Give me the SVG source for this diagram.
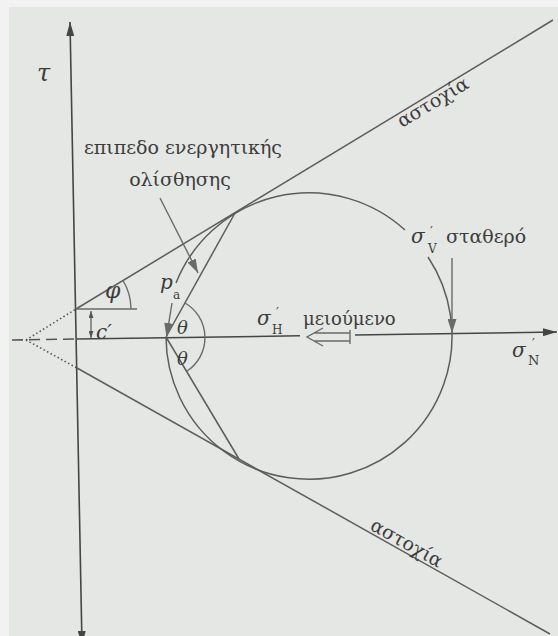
<svg xmlns="http://www.w3.org/2000/svg" width="558" height="636" viewBox="0 0 558 636">
<style>
.bg{fill:#e5e7e5}
.ln{fill:none;stroke:#5c5c5c;stroke-width:1.5}
.ax{fill:none;stroke:#454545;stroke-width:1.6}
.gr{fill:none;stroke:#6a6a6a;stroke-width:1.4}
.dot{fill:none;stroke:#555;stroke-width:1.6;stroke-dasharray:1.5 2.5}
.dash{fill:none;stroke:#555;stroke-width:1.6;stroke-dasharray:11 6}
text{font-family:"DejaVu Serif","Liberation Serif",serif;fill:#3c3c3c}
.it{font-style:italic}
</style>
<defs>
<marker id="ah" viewBox="0 0 14 8" markerWidth="14" markerHeight="8" refX="14" refY="4" orient="auto-start-reverse" markerUnits="userSpaceOnUse"><path d="M0,0 L14,4 L0,8 z" fill="#454545"/></marker>
<marker id="ahg" viewBox="0 0 14 9" markerWidth="14" markerHeight="9" refX="14" refY="4.5" orient="auto" markerUnits="userSpaceOnUse"><path d="M0,0 L14,4.5 L0,9 z" fill="#6a6a6a"/></marker>
<marker id="ahs" viewBox="0 0 7 5" markerWidth="7" markerHeight="5" refX="7" refY="2.5" orient="auto-start-reverse" markerUnits="userSpaceOnUse"><path d="M0,0 L7,2.5 L0,5 z" fill="#555"/></marker>
</defs>
<rect x="0" y="0" width="558" height="636" fill="#f1f2f1"/>
<rect class="bg" x="9" y="7" width="549" height="629"/>

<g id="connectors">
<line id="tau-axis" class="ax" x1="82" y1="645" x2="70" y2="22" marker-start="url(#ah)" marker-end="url(#ah)"/>
<line class="dash" x1="12" y1="340" x2="77" y2="339"/>
<line class="ax" x1="77" y1="339" x2="300" y2="335.8"/>
<line class="ax" x1="355" y1="335" x2="557" y2="332" marker-end="url(#ah)"/>
<line class="dot" x1="26" y1="340" x2="76" y2="309"/>
<line class="dot" x1="26" y1="340" x2="77" y2="368"/>
<line id="env-up" class="ln" x1="76" y1="309" x2="553" y2="20"/>
<line id="env-low" class="ln" x1="77" y1="368" x2="550" y2="634"/>
<line class="gr" x1="76" y1="309" x2="137" y2="309"/>
<path class="gr" d="M131,309 A55 55 0 0 0 123,280.5"/>
<line class="gr" x1="91" y1="311" x2="91" y2="338" marker-start="url(#ahs)" marker-end="url(#ahs)"/>
<path id="circle-a" class="ln" d="M176,283 A143 143 0 0 1 405,230"/>
<path id="circle-b" class="ln" d="M428,257 A143 143 0 1 1 166,337"/>
<line class="ln" x1="166" y1="337" x2="235" y2="213"/>
<line class="ln" x1="166" y1="337" x2="239" y2="459"/>
<path class="gr" d="M185,303 A40 40 0 0 1 187,371"/>
<line class="gr" x1="172" y1="303" x2="166.5" y2="337" marker-end="url(#ahg)"/>
<line class="gr" x1="160" y1="198" x2="198" y2="273" marker-end="url(#ahg)"/>
<line class="gr" x1="452" y1="258" x2="452" y2="333" marker-end="url(#ahg)"/>
<path class="gr" d="M323,328 L307,337 L323,346 M314,333 L350,333 M314,341 L350,341 M350,330 L350,344"/>
</g>

<g id="label-tau"><text class="it" x="37" y="81" font-size="24">τ</text></g>
<g id="label-slip">
<text x="183" y="154" font-size="19" text-anchor="middle">επιπεδο ενεργητικής</text>
<text x="180" y="186" font-size="19" text-anchor="middle">ολίσθησης</text>
</g>
<g id="label-fail-up"><text font-size="19" transform="translate(402,128) rotate(-31)">αστοχία</text></g>
<g id="label-fail-low"><text font-size="19" transform="translate(369,529) rotate(29.4)">αστοχία</text></g>
<g id="label-phi"><text class="it" x="105" y="298" font-size="22">φ</text></g>
<g id="label-c"><text class="it" x="96" y="339" font-size="20">c′</text></g>
<g id="label-pa">
<text class="it" x="160" y="289" font-size="20">p</text>
<text x="173" y="299" font-size="12">a</text>
</g>
<g id="label-theta">
<text class="it" x="177" y="334" font-size="18">θ</text>
<text class="it" x="177" y="365" font-size="18">θ</text>
</g>
<g id="label-sigmaV">
<text class="it" x="411" y="243" font-size="20">σ</text>
<text x="430" y="236" font-size="13">′</text>
<text x="428" y="253" font-size="12">V</text>
<text x="446" y="243" font-size="19">σταθερό</text>
</g>
<g id="label-sigmaH">
<text class="it" x="257" y="325" font-size="20">σ</text>
<text x="276" y="317" font-size="13">′</text>
<text x="272" y="334" font-size="12">H</text>
<text x="303" y="325" font-size="18">μειούμενο</text>
</g>
<g id="label-sigmaN">
<text class="it" x="512" y="357" font-size="20">σ</text>
<text x="532" y="348" font-size="13">′</text>
<text x="528" y="365" font-size="13">N</text>
</g>
</svg>
